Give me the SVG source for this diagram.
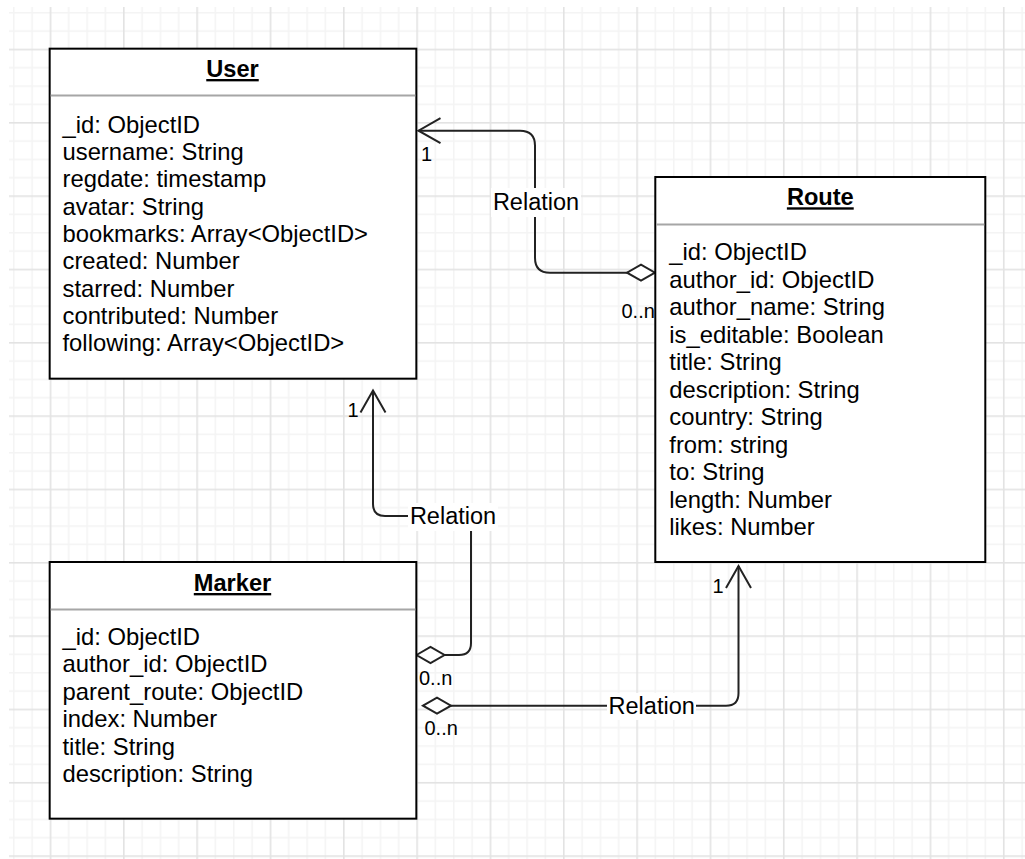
<svg xmlns="http://www.w3.org/2000/svg" width="1025" height="859" viewBox="0 0 1025 859">
  <style>
    .box { fill: #ffffff; stroke: #000000; stroke-width: 2; }
    .div { stroke: #a6a6a6; stroke-width: 2; }
    .title { font-family: "Liberation Sans", Arial, sans-serif; font-size: 23.6px; font-weight: bold; fill: #000; text-anchor: middle; text-decoration: underline; }
    .attr { font-family: "Liberation Sans", Arial, sans-serif; font-size: 23.8px; fill: #000; }
    .lbl { font-family: "Liberation Sans", Arial, sans-serif; font-size: 23.5px; fill: #000; text-anchor: middle; }
    .mult { font-family: "Liberation Sans", Arial, sans-serif; font-size: 20px; fill: #000; }
    .conn { fill: none; stroke: #222222; stroke-width: 2; }
    .lblbg { fill: #ffffff; }
  </style>
  <defs>
    <pattern id="grid" x="49.67" y="48.67" width="73.33" height="73.33" patternUnits="userSpaceOnUse">
      <rect x="0" y="0" width="73.33" height="73.33" fill="#ffffff"/>
      <g fill="#f4f4f4">
        <rect x="18.33" y="0" width="1.5" height="73.33"/>
        <rect x="36.67" y="0" width="1.5" height="73.33"/>
        <rect x="55" y="0" width="1.5" height="73.33"/>
        <rect x="0" y="18.33" width="73.33" height="1.5"/>
        <rect x="0" y="36.67" width="73.33" height="1.5"/>
        <rect x="0" y="55" width="73.33" height="1.5"/>
      </g>
      <g fill="#e3e3e3">
        <rect x="0" y="0" width="1.6" height="73.33"/>
        <rect x="0" y="0" width="73.33" height="1.6"/>
      </g>
    </pattern>
    <marker id="diamond" markerUnits="userSpaceOnUse" markerWidth="30" markerHeight="20" refX="0" refY="0" orient="auto" overflow="visible">
      <path d="M0,0 L14,-8 L28,0 L14,8 Z" fill="#ffffff" stroke="#222222" stroke-width="2"/>
    </marker>
    <marker id="open" markerUnits="userSpaceOnUse" markerWidth="30" markerHeight="30" refX="0" refY="0" orient="auto" overflow="visible">
      <path d="M-22,-12.5 L0,0 L-22,12.5" fill="none" stroke="#222222" stroke-width="2"/>
    </marker>
  </defs>

  <rect x="0" y="0" width="1025" height="859" fill="#ffffff"/>
  <rect x="9" y="7" width="1016" height="852" fill="url(#grid)"/>

  <g id="connectors">
    <g id="conn-route-user">
      <path class="conn" d="M655,272.7 H550 Q535,272.7 535,257.7 V145.7 Q535,130.7 520,130.7 H418.5" marker-start="url(#diamond)" marker-end="url(#open)"/>
      <rect class="lblbg" x="491" y="188" width="90" height="29"/>
      <text class="lbl" x="536" y="210">Relation</text>
      <text class="mult" x="421" y="161">1</text>
      <text class="mult" x="621.5" y="318">0..n</text>
    </g>
    <g id="conn-marker-user">
      <path class="conn" d="M416.5,655 H459 Q471,655 471,643 V528 Q471,516 459,516 H385 Q373,516 373,504 V390.5" marker-start="url(#diamond)" marker-end="url(#open)"/>
      <rect class="lblbg" x="408" y="503" width="90" height="28"/>
      <text class="lbl" x="453" y="524">Relation</text>
      <text class="mult" x="347.5" y="416.5">1</text>
      <text class="mult" x="419" y="685">0..n</text>
    </g>
    <g id="conn-marker-route">
      <path class="conn" d="M423,705.7 H726 Q738.5,705.7 738.5,693.2 V566" marker-start="url(#diamond)" marker-end="url(#open)"/>
      <rect class="lblbg" x="607" y="693" width="89" height="27"/>
      <text class="lbl" x="651.7" y="713.5">Relation</text>
      <text class="mult" x="712.5" y="592.5">1</text>
      <text class="mult" x="424.5" y="735">0..n</text>
    </g>
  </g>

  <g id="User">
    <rect class="box" x="49.67" y="48.67" width="366.67" height="330"/>
    <line class="div" x1="50.67" y1="95.5" x2="415.33" y2="95.5"/>
    <text class="title" x="232.5" y="77">User</text>
    <text class="attr" x="62.5" y="132.7">_id: ObjectID</text>
    <text class="attr" x="62.5" y="160">username: String</text>
    <text class="attr" x="62.5" y="187.3">regdate: timestamp</text>
    <text class="attr" x="62.5" y="214.6">avatar: String</text>
    <text class="attr" x="62.5" y="241.9">bookmarks: Array&lt;ObjectID&gt;</text>
    <text class="attr" x="62.5" y="269.2">created: Number</text>
    <text class="attr" x="62.5" y="296.5">starred: Number</text>
    <text class="attr" x="62.5" y="323.8">contributed: Number</text>
    <text class="attr" x="62.5" y="351.1">following: Array&lt;ObjectID&gt;</text>
  </g>

  <g id="Route">
    <rect class="box" x="655.3" y="177" width="330" height="385"/>
    <line class="div" x1="656.3" y1="224.5" x2="984.3" y2="224.5"/>
    <text class="title" x="820.3" y="205.3">Route</text>
    <text class="attr" x="669.3" y="260">_id: ObjectID</text>
    <text class="attr" x="669.3" y="287.5">author_id: ObjectID</text>
    <text class="attr" x="669.3" y="315">author_name: String</text>
    <text class="attr" x="669.3" y="342.5">is_editable: Boolean</text>
    <text class="attr" x="669.3" y="370">title: String</text>
    <text class="attr" x="669.3" y="397.5">description: String</text>
    <text class="attr" x="669.3" y="425">country: String</text>
    <text class="attr" x="669.3" y="452.5">from: string</text>
    <text class="attr" x="669.3" y="480">to: String</text>
    <text class="attr" x="669.3" y="507.5">length: Number</text>
    <text class="attr" x="669.3" y="535">likes: Number</text>
  </g>

  <g id="Marker">
    <rect class="box" x="49.67" y="562" width="366.67" height="256.67"/>
    <line class="div" x1="50.67" y1="609.5" x2="415.33" y2="609.5"/>
    <text class="title" x="232.5" y="591">Marker</text>
    <text class="attr" x="62.5" y="645">_id: ObjectID</text>
    <text class="attr" x="62.5" y="672.4">author_id: ObjectID</text>
    <text class="attr" x="62.5" y="699.8">parent_route: ObjectID</text>
    <text class="attr" x="62.5" y="727.2">index: Number</text>
    <text class="attr" x="62.5" y="754.6">title: String</text>
    <text class="attr" x="62.5" y="782">description: String</text>
  </g>
</svg>
